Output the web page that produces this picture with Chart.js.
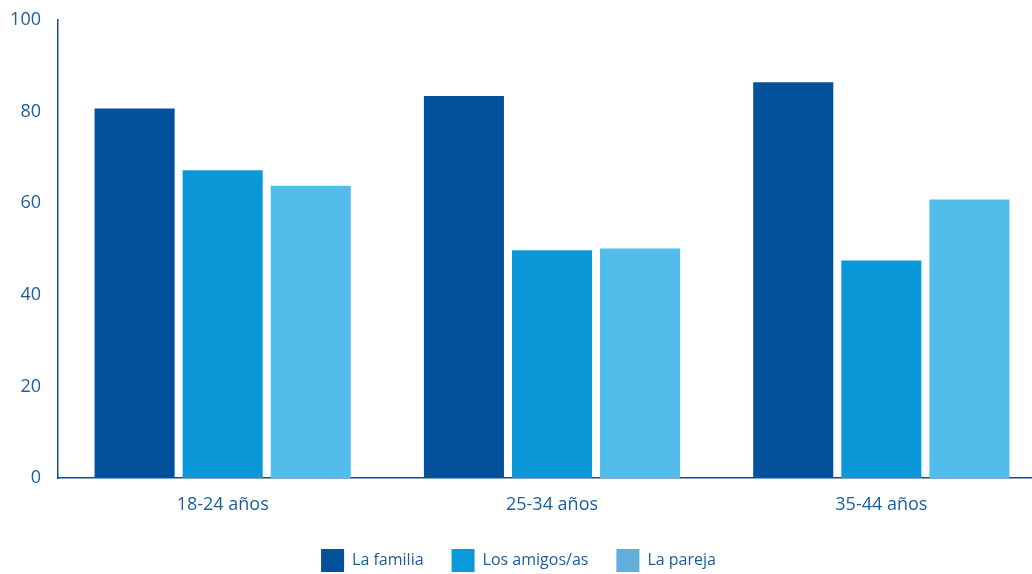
<!DOCTYPE html>
<html>
<head>
<meta charset="utf-8">
<script src="https://cdn.jsdelivr.net/npm/chart.js@4/dist/chart.umd.min.js"></script>
<style>
html,body{margin:0;padding:0;background:#fff;overflow:hidden;}
#wrap{position:absolute;left:0;top:0;width:1046px;height:582px;}
</style>
</head>
<body>
<div id="wrap"><canvas id="c" width="1046" height="582"></canvas></div>
<script>
const categories = ["18-24 años", "25-34 años", "35-44 años"];
const familia = [80.7, 83.4, 86.4];
const amigos = [67.2, 49.7, 47.5];
const pareja = [63.8, 50.1, 60.8];
const seriesNames = ["La familia", "Los amigos/as", "La pareja"];
const yTicks = [0, 20, 40, 60, 80, 100];

const barColors = ["#03519A", "#0A98D9", "#52BDEB"];
const legendColors = ["#03519A", "#0A9ADA", "#62AFDE"];
const textColor = "#1D5C9D";
const fontFamily = "'Open Sans', sans-serif";

new Chart(document.getElementById('c'), {
  type: 'bar',
  data: {
    labels: categories,
    datasets: [familia, amigos, pareja].map((d, i) => ({
      label: seriesNames[i],
      data: d,
      backgroundColor: barColors[i],
      borderWidth: 0,
      categoryPercentage: 0.8024,
      barPercentage: 0.909
    }))
  },
  options: {
    responsive: false,
    animation: false,
    layout: { padding: { top: 20, left: -9, right: 0, bottom: 0 } },
    scales: {
      x: {
        grid: { display: false },
        border: { display: true, color: "#0B4F96", width: 1.5 },
        ticks: { color: textColor, font: { family: fontFamily, size: 18, weight: 500 }, padding: 8 },
        afterFit: s => { s.height = 43; }
      },
      y: {
        min: 0, max: 100,
        grid: { display: false },
        border: { display: true, color: "#0B4F96", width: 1.5 },
        afterBuildTicks: s => { s.ticks = yTicks.map(v => ({ value: v })); },
        ticks: { color: textColor, font: { family: fontFamily, size: 18, weight: 500 }, padding: 9 },
        afterFit: s => { s.width = 67; }
      }
    },
    plugins: {
      tooltip: { enabled: false },
      legend: {
        position: 'bottom',
        labels: {
          boxWidth: 23, boxHeight: 23, padding: 28,
          color: textColor,
          font: { family: fontFamily, size: 16, weight: 500 },
          generateLabels: chart => seriesNames.map((n, i) => ({
            text: n, fillStyle: legendColors[i], strokeStyle: legendColors[i],
            lineWidth: 0, datasetIndex: i, fontColor: textColor
          }))
        }
      }
    }
  }
});
</script>
</body>
</html>
